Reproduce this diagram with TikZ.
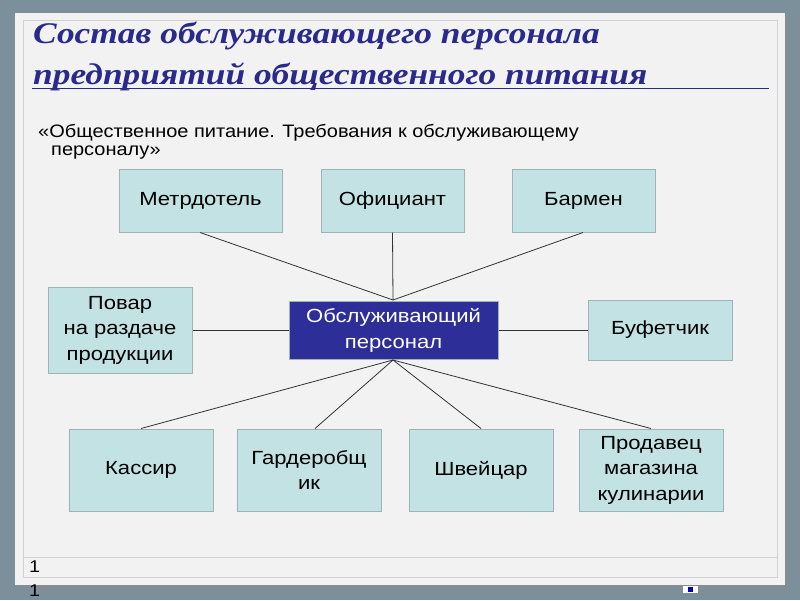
\documentclass[tikz,border=0pt]{standalone}
\usepackage{fontspec}
\setmainfont[FakeStretch=1.16]{Liberation Sans}
\newfontfamily\subfont[FakeStretch=1.11]{Liberation Sans}
\newfontfamily\titlefont[FakeStretch=1.18]{Liberation Serif}
\definecolor{bgslate}{HTML}{7B909B}
\definecolor{panel}{HTML}{F2F2F2}
\definecolor{frameline}{HTML}{D2D2D2}
\definecolor{boxfill}{HTML}{C2E2E4}
\definecolor{boxline}{HTML}{9FB2B4}
\definecolor{navy}{HTML}{2E2E99}
\definecolor{titleblue}{HTML}{2A2A8C}
\tikzset{
  rolebox/.style={draw=boxline, line width=1pt, fill=boxfill, rectangle, align=center,
    font=\fontsize{19}{25.5}\selectfont, text=black, inner sep=0pt},
  hubbox/.style={draw=boxline, line width=1pt, fill=navy, rectangle, align=center,
    font=\fontsize{19}{26}\selectfont, text=white, inner sep=0pt},
  link/.style={draw=black!80, line width=0.8pt}
}
\begin{document}
\begin{tikzpicture}[x=1pt,y=-1pt]
\useasboundingbox (0,0) rectangle (800,600);
\fill[bgslate] (0,0) rectangle (800,600);
% panel with shadow
\fill[black!45, opacity=0.5] (18,16) rectangle (789,589);
\fill[panel] (15,13) rectangle (785,585);
\draw[frameline, line width=1pt] (23,20) rectangle (777,577);
\draw[frameline, line width=1pt] (23,557) -- (777,557);
% title
\node[anchor=base west, inner sep=0pt, text=titleblue, font=\titlefont\fontsize{30}{36}\selectfont\bfseries\itshape] (t1) at (33,43) {Состав обслуживающего персонала};
\node[anchor=base west, inner sep=0pt, text=titleblue, font=\titlefont\fontsize{30}{36}\selectfont\bfseries\itshape] (t2) at (33,84) {предприятий общественного питания};
\draw[titleblue, line width=1.5pt] (32,88.5) -- (769,88.5);
% subtitle
\node[anchor=base west, inner sep=0pt, font=\subfont\fontsize{18}{22}\selectfont] (s1) at (38,137) {«Общественное питание. Требования к обслуживающему};
\node[anchor=base west, inner sep=0pt, font=\subfont\fontsize{18}{22}\selectfont] (s2) at (51,155) {персоналу»};
% boxes
\node[rolebox, minimum width=163pt, minimum height=63pt] (metr) at (200.5,200.5) {Метрдотель};
\node[rolebox, minimum width=143pt, minimum height=63pt] (ofic) at (392.5,200.5) {Официант};
\node[rolebox, minimum width=143pt, minimum height=63pt] (barm) at (583.5,200.5) {Бармен};
\node[rolebox, minimum width=144pt, minimum height=86pt] (povar) at (120,330) {Повар\\на раздаче\\продукции};
\node[hubbox, minimum width=209pt, minimum height=58pt] (hub) at (393.5,330) {Обслуживающий\\персонал};
\node[rolebox, minimum width=144pt, minimum height=60pt] (bufet) at (660,330) {Буфетчик};
\node[rolebox, minimum width=144pt, minimum height=82pt] (kass) at (141,470) {Кассир};
\node[rolebox, minimum width=144pt, minimum height=82pt] (gard) at (309,470) {Гардеробщ\\ик};
\node[rolebox, minimum width=144pt, minimum height=82pt] (shv) at (481,470) {Швейцар};
\node[rolebox, minimum width=144pt, minimum height=82pt] (prod) at (651,470) {Продавец\\магазина\\кулинарии};
% connectors
\coordinate (htop) at (393,300);
\coordinate (hbot) at (393,360);
\draw[link] ([xshift=-0.5pt]metr.south) -- (htop);
\draw[link] (ofic.south) -- (htop);
\draw[link] ([xshift=-0.5pt]barm.south) -- (htop);
\draw[link] (povar.east) -- (hub.west);
\draw[link] (hub.east) -- (bufet.west);
\draw[link] (hbot) -- (kass.north);
\draw[link] (hbot) -- ([xshift=6pt]gard.north);
\draw[link] (hbot) -- (shv.north);
\draw[link] (hbot) -- (prod.north);
% page numbers
\node[anchor=base west, inner sep=0pt, font=\fontsize{17}{20}\selectfont] (n1) at (29,572) {1};
\node[anchor=base west, inner sep=0pt, font=\fontsize{17}{20}\selectfont] (n2) at (29,596) {1};
% small icon
\fill[white] (683,586) rectangle (698,593);
\fill[blue!70!black] (688,587) rectangle (693,592);
\end{tikzpicture}
\end{document}
